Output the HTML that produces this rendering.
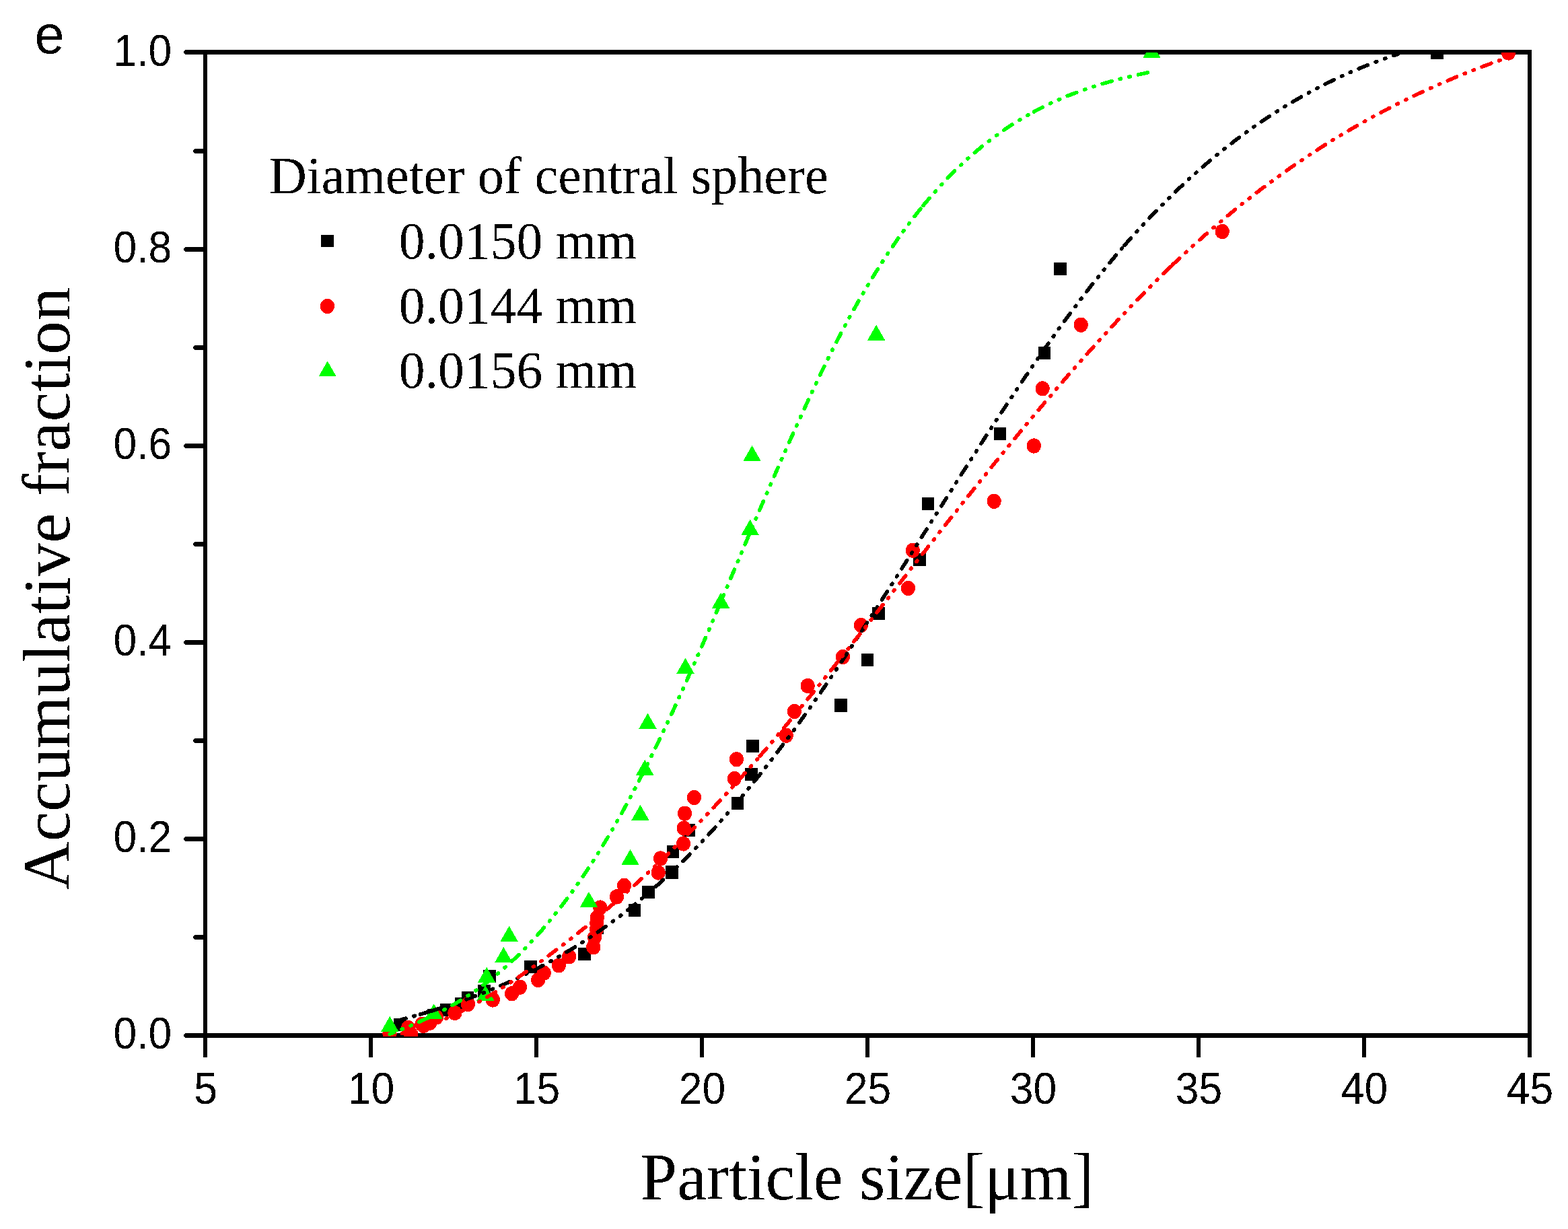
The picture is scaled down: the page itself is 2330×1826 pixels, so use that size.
<!DOCTYPE html>
<html lang="en"><head><meta charset="utf-8"><title>Accumulative fraction vs particle size</title>
<style>
html,body{margin:0;padding:0;background:#fff;}
body{width:2330px;height:1826px;overflow:hidden;}
svg{display:block;}
.sans{font-family:"Liberation Sans",Arial,Helvetica,sans-serif;fill:#000;}
.serif{font-family:"Liberation Serif","Times New Roman",Times,serif;fill:#000;}
.ax{stroke:#000;stroke-width:6.2;fill:none;}
.tk{stroke:#000;stroke-width:6.2;fill:none;stroke-linecap:round;}
</style></head><body>
<svg width="2330" height="1826" viewBox="0 0 2330 1826" shape-rendering="crispEdges">
<rect x="0" y="0" width="2330" height="1826" fill="#fff"/>
<defs><filter id="bin" filterUnits="userSpaceOnUse" x="0" y="0" width="2330" height="1826" color-interpolation-filters="sRGB"><feComponentTransfer><feFuncA type="discrete" tableValues="0 1"/></feComponentTransfer></filter><clipPath id="plotclip"><rect x="304.0" y="78.0" width="1970.0" height="1462.0"/></clipPath></defs>
<g id="axes" fill="#000">
<rect x="302" y="74" width="1974" height="7"/>
<rect x="302" y="1535" width="1974" height="7"/>
<rect x="302" y="74" width="6" height="1468"/>
<rect x="2270" y="74" width="6" height="1468"/>
<rect x="275" y="74" width="30" height="7"/>
<rect x="274" y="75" width="1" height="5"/>
<rect x="273" y="76" width="1" height="3"/>
<rect x="289" y="221" width="16" height="7"/>
<rect x="288" y="222" width="1" height="5"/>
<rect x="287" y="223" width="1" height="3"/>
<rect x="275" y="367" width="30" height="7"/>
<rect x="274" y="368" width="1" height="5"/>
<rect x="273" y="369" width="1" height="3"/>
<rect x="289" y="513" width="16" height="7"/>
<rect x="288" y="514" width="1" height="5"/>
<rect x="287" y="515" width="1" height="3"/>
<rect x="275" y="659" width="30" height="7"/>
<rect x="274" y="660" width="1" height="5"/>
<rect x="273" y="661" width="1" height="3"/>
<rect x="289" y="805" width="16" height="7"/>
<rect x="288" y="806" width="1" height="5"/>
<rect x="287" y="807" width="1" height="3"/>
<rect x="275" y="951" width="30" height="7"/>
<rect x="274" y="952" width="1" height="5"/>
<rect x="273" y="953" width="1" height="3"/>
<rect x="289" y="1097" width="16" height="7"/>
<rect x="288" y="1098" width="1" height="5"/>
<rect x="287" y="1099" width="1" height="3"/>
<rect x="275" y="1243" width="30" height="7"/>
<rect x="274" y="1244" width="1" height="5"/>
<rect x="273" y="1245" width="1" height="3"/>
<rect x="289" y="1389" width="16" height="7"/>
<rect x="288" y="1390" width="1" height="5"/>
<rect x="287" y="1391" width="1" height="3"/>
<rect x="275" y="1535" width="30" height="7"/>
<rect x="274" y="1536" width="1" height="5"/>
<rect x="273" y="1537" width="1" height="3"/>
<rect x="302" y="1538" width="6" height="33"/>
<rect x="548" y="1538" width="6" height="33"/>
<rect x="794" y="1538" width="6" height="33"/>
<rect x="1040" y="1538" width="6" height="33"/>
<rect x="1286" y="1538" width="6" height="33"/>
<rect x="1532" y="1538" width="6" height="33"/>
<rect x="1778" y="1538" width="6" height="33"/>
<rect x="2024" y="1538" width="6" height="33"/>
<rect x="2270" y="1538" width="6" height="33"/>
</g>
<g id="markers" clip-path="url(#plotclip)">
<rect x="585.30" y="1512.80" width="18.6" height="19.6" fill="#000"/>
<rect x="635.40" y="1498.80" width="18.6" height="19.6" fill="#000"/>
<rect x="654.30" y="1490.80" width="18.6" height="19.6" fill="#000"/>
<rect x="676.30" y="1481.80" width="18.6" height="19.6" fill="#000"/>
<rect x="685.50" y="1472.80" width="18.6" height="19.6" fill="#000"/>
<rect x="710.20" y="1462.70" width="18.6" height="19.6" fill="#000"/>
<rect x="718.20" y="1440.60" width="18.6" height="19.6" fill="#000"/>
<rect x="779.20" y="1426.80" width="18.6" height="19.6" fill="#000"/>
<rect x="859.20" y="1407.70" width="18.6" height="19.6" fill="#000"/>
<rect x="877.90" y="1368.70" width="18.6" height="19.6" fill="#000"/>
<rect x="933.80" y="1342.60" width="18.6" height="19.6" fill="#000"/>
<rect x="954.20" y="1315.70" width="18.6" height="19.6" fill="#000"/>
<rect x="989.30" y="1286.20" width="18.6" height="19.6" fill="#000"/>
<rect x="990.70" y="1255.70" width="18.6" height="19.6" fill="#000"/>
<rect x="1014.20" y="1223.80" width="18.6" height="19.6" fill="#000"/>
<rect x="1086.70" y="1183.60" width="18.6" height="19.6" fill="#000"/>
<rect x="1107.30" y="1140.70" width="18.6" height="19.6" fill="#000"/>
<rect x="1109.30" y="1098.60" width="18.6" height="19.6" fill="#000"/>
<rect x="1240.10" y="1038.10" width="18.6" height="19.6" fill="#000"/>
<rect x="1279.60" y="970.70" width="18.6" height="19.6" fill="#000"/>
<rect x="1296.20" y="901.50" width="18.6" height="19.6" fill="#000"/>
<rect x="1357.20" y="821.70" width="18.6" height="19.6" fill="#000"/>
<rect x="1369.70" y="738.70" width="18.6" height="19.6" fill="#000"/>
<rect x="1476.70" y="634.60" width="18.6" height="19.6" fill="#000"/>
<rect x="1542.70" y="514.60" width="18.6" height="19.6" fill="#000"/>
<rect x="1566.20" y="389.60" width="18.6" height="19.6" fill="#000"/>
<rect x="2126.30" y="68.70" width="18.6" height="19.6" fill="#000"/>
<ellipse cx="579.0" cy="1535.6" rx="10.6" ry="11.1" fill="#ff0000"/>
<ellipse cx="606.5" cy="1527.0" rx="10.6" ry="11.1" fill="#ff0000"/>
<ellipse cx="610.7" cy="1536.8" rx="10.6" ry="11.1" fill="#ff0000"/>
<ellipse cx="626.9" cy="1521.9" rx="10.6" ry="11.1" fill="#ff0000"/>
<ellipse cx="629.4" cy="1523.9" rx="10.6" ry="11.1" fill="#ff0000"/>
<ellipse cx="638.8" cy="1519.7" rx="10.6" ry="11.1" fill="#ff0000"/>
<ellipse cx="648.5" cy="1511.4" rx="10.6" ry="11.1" fill="#ff0000"/>
<ellipse cx="675.9" cy="1505.0" rx="10.6" ry="11.1" fill="#ff0000"/>
<ellipse cx="695.5" cy="1492.0" rx="10.6" ry="11.1" fill="#ff0000"/>
<ellipse cx="732.4" cy="1485.5" rx="10.6" ry="11.1" fill="#ff0000"/>
<ellipse cx="760.6" cy="1476.3" rx="10.6" ry="11.1" fill="#ff0000"/>
<ellipse cx="772.6" cy="1466.7" rx="10.6" ry="11.1" fill="#ff0000"/>
<ellipse cx="799.6" cy="1456.1" rx="10.6" ry="11.1" fill="#ff0000"/>
<ellipse cx="808.3" cy="1445.6" rx="10.6" ry="11.1" fill="#ff0000"/>
<ellipse cx="830.4" cy="1434.4" rx="10.6" ry="11.1" fill="#ff0000"/>
<ellipse cx="845.6" cy="1421.4" rx="10.6" ry="11.1" fill="#ff0000"/>
<ellipse cx="881.7" cy="1407.3" rx="10.6" ry="11.1" fill="#ff0000"/>
<ellipse cx="883.5" cy="1392.8" rx="10.6" ry="11.1" fill="#ff0000"/>
<ellipse cx="886.5" cy="1380.5" rx="10.6" ry="11.1" fill="#ff0000"/>
<ellipse cx="886.9" cy="1371.5" rx="10.6" ry="11.1" fill="#ff0000"/>
<ellipse cx="887.5" cy="1363.2" rx="10.6" ry="11.1" fill="#ff0000"/>
<ellipse cx="891.8" cy="1348.5" rx="10.6" ry="11.1" fill="#ff0000"/>
<ellipse cx="916.5" cy="1332.4" rx="10.6" ry="11.1" fill="#ff0000"/>
<ellipse cx="927.5" cy="1315.8" rx="10.6" ry="11.1" fill="#ff0000"/>
<ellipse cx="978.3" cy="1296.5" rx="10.6" ry="11.1" fill="#ff0000"/>
<ellipse cx="981.5" cy="1275.5" rx="10.6" ry="11.1" fill="#ff0000"/>
<ellipse cx="1015.5" cy="1253.5" rx="10.6" ry="11.1" fill="#ff0000"/>
<ellipse cx="1016.3" cy="1230.5" rx="10.6" ry="11.1" fill="#ff0000"/>
<ellipse cx="1017.5" cy="1208.6" rx="10.6" ry="11.1" fill="#ff0000"/>
<ellipse cx="1031.5" cy="1185.0" rx="10.6" ry="11.1" fill="#ff0000"/>
<ellipse cx="1091.3" cy="1157.0" rx="10.6" ry="11.1" fill="#ff0000"/>
<ellipse cx="1094.5" cy="1128.2" rx="10.6" ry="11.1" fill="#ff0000"/>
<ellipse cx="1168.3" cy="1092.7" rx="10.6" ry="11.1" fill="#ff0000"/>
<ellipse cx="1180.4" cy="1057.0" rx="10.6" ry="11.1" fill="#ff0000"/>
<ellipse cx="1200.2" cy="1019.0" rx="10.6" ry="11.1" fill="#ff0000"/>
<ellipse cx="1252.5" cy="976.0" rx="10.6" ry="11.1" fill="#ff0000"/>
<ellipse cx="1279.4" cy="929.0" rx="10.6" ry="11.1" fill="#ff0000"/>
<ellipse cx="1349.5" cy="873.9" rx="10.6" ry="11.1" fill="#ff0000"/>
<ellipse cx="1356.4" cy="817.8" rx="10.6" ry="11.1" fill="#ff0000"/>
<ellipse cx="1477.2" cy="744.8" rx="10.6" ry="11.1" fill="#ff0000"/>
<ellipse cx="1536.4" cy="662.5" rx="10.6" ry="11.1" fill="#ff0000"/>
<ellipse cx="1549.2" cy="577.4" rx="10.6" ry="11.1" fill="#ff0000"/>
<ellipse cx="1606.3" cy="482.7" rx="10.6" ry="11.1" fill="#ff0000"/>
<ellipse cx="1816.2" cy="344.0" rx="10.6" ry="11.1" fill="#ff0000"/>
<ellipse cx="2241.6" cy="78.5" rx="10.6" ry="11.1" fill="#ff0000"/>
<path d="M579.3 1509.9 L592.6 1533.1 L566.0 1533.1 Z" fill="#00ff00"/>
<path d="M644.7 1491.2 L658.0 1514.4 L631.4 1514.4 Z" fill="#00ff00"/>
<path d="M721.4 1463.9 L734.7 1487.1 L708.1 1487.1 Z" fill="#00ff00"/>
<path d="M723.2 1436.8 L736.5 1460.0 L709.9 1460.0 Z" fill="#00ff00"/>
<path d="M748.3 1407.0 L761.6 1430.2 L735.0 1430.2 Z" fill="#00ff00"/>
<path d="M756.6 1375.8 L769.9 1399.0 L743.3 1399.0 Z" fill="#00ff00"/>
<path d="M875.0 1324.9 L888.3 1348.1 L861.7 1348.1 Z" fill="#00ff00"/>
<path d="M936.5 1261.9 L949.8 1285.1 L923.2 1285.1 Z" fill="#00ff00"/>
<path d="M951.4 1195.8 L964.7 1219.0 L938.1 1219.0 Z" fill="#00ff00"/>
<path d="M958.2 1128.7 L971.5 1151.9 L944.9 1151.9 Z" fill="#00ff00"/>
<path d="M962.5 1059.7 L975.8 1082.9 L949.2 1082.9 Z" fill="#00ff00"/>
<path d="M1018.5 977.7 L1031.8 1000.9 L1005.2 1000.9 Z" fill="#00ff00"/>
<path d="M1071.1 880.6 L1084.4 903.8 L1057.8 903.8 Z" fill="#00ff00"/>
<path d="M1114.6 771.8 L1127.9 795.0 L1101.3 795.0 Z" fill="#00ff00"/>
<path d="M1117.5 661.9 L1130.8 685.1 L1104.2 685.1 Z" fill="#00ff00"/>
<path d="M1302.1 482.7 L1315.4 505.9 L1288.8 505.9 Z" fill="#00ff00"/>
<path d="M1711.5 63.1 L1724.8 86.3 L1698.2 86.3 Z" fill="#00ff00"/>
</g>
<g id="curves" fill="none" clip-path="url(#plotclip)">
<path d="M594.6 1515.4 L598.6 1514.3 L602.6 1513.2 L606.6 1512.1 L610.6 1511.0 L614.6 1509.9 L618.6 1508.7 L621.0 1508.0" stroke="#000000" stroke-width="5.6" stroke-dasharray="14.5 12.5 1.5 12.5 1.5 12.5" stroke-dashoffset="5.75" stroke-linecap="round"/>
<path d="M624.5 1507.0 L626.6 1506.4 L630.6 1505.2 L634.6 1504.0 L637.0 1503.3" stroke="#000000" stroke-width="5.6" stroke-linecap="round"/>
<path d="M621.0 1508.0 L622.6 1507.6 L626.6 1506.4 L630.6 1505.2 L634.6 1504.0 L638.6 1502.8 L642.6 1501.6 L646.6 1500.4 L650.6 1499.1 L654.6 1497.8 L658.6 1496.6 L662.6 1495.3 L666.6 1493.9 L670.6 1492.6 L674.6 1491.2 L678.6 1489.9 L682.6 1488.5 L686.6 1487.0 L690.6 1485.6 L694.6 1484.2 L698.6 1482.7 L702.6 1481.2 L706.6 1479.7 L710.6 1478.2 L714.6 1476.6 L718.6 1475.0 L722.6 1473.4 L726.6 1471.8 L730.6 1470.2 L734.6 1468.5 L738.6 1466.9 L742.6 1465.2 L746.6 1463.4 L750.6 1461.7 L754.6 1459.9 L758.6 1458.1 L762.6 1456.3 L766.6 1454.4 L770.6 1452.6 L774.6 1450.7 L778.6 1448.7 L782.6 1446.8 L786.6 1444.8 L790.6 1442.8 L794.6 1440.8 L798.6 1438.7 L802.6 1436.6 L806.6 1434.5 L810.6 1432.4 L814.6 1430.2 L818.6 1428.0 L822.6 1425.8 L826.6 1423.6 L830.6 1421.3 L834.6 1419.0 L838.6 1416.6 L842.6 1414.3 L846.6 1411.9 L850.6 1409.4 L854.6 1407.0 L858.6 1404.5 L862.6 1401.9 L866.6 1399.4 L870.6 1396.8 L874.6 1394.2 L878.6 1391.5 L882.6 1388.8 L886.6 1386.1 L890.6 1383.4 L894.6 1380.6 L898.6 1377.7 L902.6 1374.9 L906.6 1372.0 L910.6 1369.1 L914.6 1366.1 L918.6 1363.1 L922.6 1360.1 L926.6 1357.0 L930.6 1353.9 L934.6 1350.7 L938.6 1347.5 L942.6 1344.3 L946.6 1341.1 L950.6 1337.8 L954.6 1334.4 L958.6 1331.0 L962.6 1327.6 L966.6 1324.2 L970.6 1320.7 L974.6 1317.2 L978.6 1313.6 L982.6 1310.0 L986.6 1306.3 L990.6 1302.6 L994.6 1298.9 L998.6 1295.1 L1002.6 1291.3 L1006.6 1287.4 L1010.6 1283.5 L1014.6 1279.6 L1018.6 1275.6 L1022.6 1271.6 L1026.6 1267.6 L1030.6 1263.5 L1034.6 1259.3 L1038.6 1255.2 L1042.6 1251.0 L1046.6 1246.7 L1050.6 1242.4 L1054.6 1238.1 L1058.6 1233.8 L1062.6 1229.4 L1066.6 1224.9 L1070.6 1220.5 L1074.6 1216.0 L1078.6 1211.4 L1082.6 1206.8 L1086.6 1202.2 L1090.6 1197.6 L1094.6 1192.9 L1096.0 1191.2" stroke="#000000" stroke-width="5.6" stroke-dasharray="14.5 12.5 1.5 12.5 1.5 12.5" stroke-dashoffset="-20.66" stroke-linecap="round"/>
<path d="M1096.0 1191.2 L1098.6 1188.1 L1102.6 1183.4 L1106.6 1178.6 L1110.6 1173.7 L1114.6 1168.9 L1118.6 1163.9 L1122.6 1159.0 L1126.6 1154.0 L1130.6 1149.0 L1134.6 1144.0 L1138.6 1138.9 L1142.6 1133.8 L1146.6 1128.6 L1150.6 1123.4 L1154.6 1118.2 L1158.6 1112.9 L1162.6 1107.6 L1166.6 1102.3 L1170.6 1097.0 L1174.6 1091.6 L1178.6 1086.1 L1182.6 1080.7 L1186.6 1075.2 L1190.6 1069.7 L1194.6 1064.1 L1198.6 1058.5 L1202.6 1052.9 L1206.6 1047.2 L1210.6 1041.5 L1214.6 1035.8 L1218.6 1030.1 L1222.6 1024.3 L1226.6 1018.5 L1230.6 1012.6 L1234.6 1006.8 L1238.6 1000.9 L1242.6 994.9 L1246.6 989.0 L1250.6 983.0 L1254.6 977.0 L1258.6 971.0 L1262.6 964.9 L1266.6 958.9 L1270.6 952.8 L1274.6 946.7 L1278.6 940.6 L1282.6 934.4 L1286.6 928.3 L1290.6 922.1 L1294.6 915.9 L1298.6 909.7 L1302.6 903.5 L1306.6 897.2 L1310.6 891.0 L1314.6 884.8 L1318.6 878.5 L1322.6 872.2 L1326.6 865.9 L1330.6 859.6 L1334.6 853.3 L1338.6 847.0 L1342.6 840.7 L1346.6 834.4 L1350.6 828.1 L1354.6 821.8 L1358.6 815.4 L1362.6 809.1 L1366.6 802.8 L1370.6 796.4 L1374.6 790.1 L1378.6 783.8 L1382.6 777.4 L1386.6 771.1 L1390.6 764.8 L1394.6 758.5 L1398.6 752.1 L1402.6 745.8 L1406.6 739.5 L1410.6 733.2 L1414.6 726.9 L1418.6 720.6 L1422.6 714.3 L1426.6 708.0 L1430.6 701.7 L1434.6 695.5 L1438.6 689.2 L1442.6 683.0 L1446.6 676.7 L1450.6 670.5 L1454.6 664.3 L1458.6 658.1 L1462.6 651.9 L1466.6 645.8 L1470.6 639.6 L1474.6 633.5 L1478.6 627.3 L1482.6 621.2 L1486.6 615.2 L1490.6 609.1 L1494.6 603.0 L1498.6 597.0 L1502.6 591.0 L1506.6 585.0 L1510.6 579.0 L1514.6 573.1 L1518.6 567.1 L1522.6 561.2 L1526.6 555.4 L1530.6 549.5 L1534.6 543.7 L1538.6 537.9 L1542.6 532.1 L1546.6 526.4 L1550.6 520.6 L1554.6 514.9 L1558.6 509.3 L1562.6 503.6 L1566.6 498.0 L1570.6 492.5 L1574.6 486.9 L1578.6 481.4 L1582.6 475.9 L1586.6 470.5 L1590.6 465.1 L1594.6 459.7 L1598.6 454.4 L1602.6 449.1 L1606.6 443.8 L1610.6 438.6 L1614.6 433.4 L1618.6 428.2 L1622.6 423.1 L1626.6 418.0 L1630.6 413.0 L1634.6 408.0 L1638.6 403.1 L1642.6 398.1 L1646.6 393.3 L1650.6 388.5 L1654.6 383.7 L1658.6 378.9 L1662.6 374.2 L1666.6 369.6 L1669.5 366.2" stroke="#000000" stroke-width="5.6" stroke-dasharray="14.5 12.5 1.5 12.5 1.5 12.5" stroke-dashoffset="-39.05" stroke-linecap="round"/>
<path d="M1669.5 366.2 L1670.6 365.0 L1674.6 360.4 L1678.6 355.9 L1682.6 351.4 L1686.6 346.9 L1690.6 342.5 L1694.6 338.2 L1698.6 333.8 L1702.6 329.6 L1706.6 325.3 L1710.6 321.1 L1714.6 316.9 L1718.6 312.8 L1722.6 308.7 L1726.6 304.7 L1730.6 300.7 L1734.6 296.7 L1738.6 292.8 L1742.6 288.9 L1746.6 285.0 L1750.6 281.2 L1754.6 277.4 L1758.6 273.7 L1762.6 269.9 L1766.6 266.3 L1770.6 262.6 L1774.6 259.1 L1778.6 255.5 L1782.6 252.0 L1786.6 248.5 L1790.6 245.0 L1794.6 241.6 L1798.6 238.2 L1802.6 234.9 L1806.6 231.6 L1810.6 228.3 L1814.6 225.1 L1818.6 221.9 L1822.6 218.7 L1826.6 215.6 L1830.6 212.5 L1834.6 209.4 L1838.6 206.4 L1842.6 203.4 L1846.6 200.4 L1850.6 197.5 L1854.6 194.6 L1858.6 191.8 L1862.6 188.9 L1866.6 186.1 L1870.6 183.4 L1874.6 180.6 L1878.6 177.9 L1882.6 175.3 L1886.6 172.6 L1890.6 170.0 L1894.6 167.4 L1898.6 164.9 L1902.6 162.4 L1906.6 159.9 L1910.6 157.5 L1914.6 155.0 L1918.6 152.7 L1922.6 150.3 L1926.6 148.0 L1930.6 145.7 L1934.6 143.4 L1938.6 141.2 L1942.6 139.0 L1946.6 136.8 L1950.6 134.6 L1954.6 132.5 L1958.6 130.4 L1962.6 128.3 L1966.6 126.3 L1970.6 124.3 L1974.6 122.3 L1978.6 120.4 L1982.6 118.4 L1986.6 116.5 L1990.6 114.7 L1994.6 112.8 L1998.6 111.0 L2002.6 109.2 L2006.6 107.4 L2010.6 105.7 L2014.6 104.0 L2018.6 102.3 L2022.6 100.6 L2026.6 99.0 L2030.6 97.4 L2034.6 95.8 L2038.6 94.2 L2042.6 92.7 L2046.6 91.2 L2050.6 89.7 L2054.6 88.2 L2058.6 86.8 L2062.6 85.4 L2066.6 84.0 L2070.6 82.6 L2074.6 81.3 L2077.0 80.5" stroke="#000000" stroke-width="5.6" stroke-dasharray="14.5 12.5 1.5 12.5 1.5 12.5" stroke-dashoffset="-2.2" stroke-linecap="round"/>
<path d="M579.0 1538.7 L583.0 1538.1 L587.0 1537.4 L591.0 1536.7 L595.0 1535.9 L599.0 1535.0 L603.0 1534.1 L607.0 1533.1 L611.0 1532.0 L615.0 1530.9 L619.0 1529.7 L623.0 1528.5 L627.0 1527.2 L631.0 1525.9 L635.0 1524.5 L639.0 1523.0 L643.0 1521.5 L647.0 1520.0 L651.0 1518.3 L655.0 1516.7 L659.0 1515.0 L663.0 1513.2 L667.0 1511.4 L671.0 1509.6 L675.0 1507.7 L679.0 1505.7 L683.0 1503.8 L687.0 1501.7 L691.0 1499.7 L695.0 1497.6 L699.0 1495.4 L703.0 1493.3 L707.0 1491.1 L711.0 1488.8 L715.0 1486.5 L719.0 1484.2 L723.0 1481.9 L727.0 1479.5 L731.0 1477.1 L735.0 1474.6 L739.0 1472.2 L743.0 1469.6 L747.0 1467.1 L751.0 1464.6 L755.0 1462.0 L759.0 1459.3 L763.0 1456.7 L767.0 1454.0 L771.0 1451.3 L775.0 1448.6 L779.0 1445.8 L783.0 1443.1 L787.0 1440.3 L791.0 1437.4 L795.0 1434.6 L799.0 1431.7 L803.0 1428.8 L807.0 1425.9 L811.0 1423.0 L815.0 1420.0 L819.0 1417.1 L823.0 1414.1 L827.0 1411.1 L831.0 1408.0 L835.0 1405.0 L839.0 1401.9 L843.0 1398.8 L847.0 1395.7 L851.0 1392.6 L855.0 1389.4 L859.0 1386.2 L863.0 1383.1 L867.0 1379.8 L871.0 1376.6 L875.0 1373.4 L879.0 1370.1 L883.0 1366.8 L887.0 1363.5 L891.0 1360.2 L895.0 1356.8 L899.0 1353.4 L903.0 1350.1 L907.0 1346.6 L911.0 1343.2 L915.0 1339.8 L919.0 1336.3 L923.0 1332.8 L927.0 1329.3 L931.0 1325.7 L935.0 1322.2 L939.0 1318.6 L943.0 1315.0 L947.0 1311.4 L951.0 1307.7 L955.0 1304.1 L959.0 1300.4 L963.0 1296.7 L967.0 1293.0 L971.0 1289.2 L975.0 1285.5 L979.0 1281.7 L983.0 1277.9 L987.0 1274.0 L991.0 1270.2 L995.0 1266.3 L999.0 1262.4 L1003.0 1258.5 L1007.0 1254.5 L1011.0 1250.6 L1015.0 1246.6 L1019.0 1242.6 L1023.0 1238.5 L1027.0 1234.5 L1031.0 1230.4 L1035.0 1226.3 L1039.0 1222.2 L1043.0 1218.1 L1047.0 1213.9 L1051.0 1209.7 L1055.0 1205.5 L1059.0 1201.3 L1063.0 1197.0 L1067.0 1192.7 L1071.0 1188.4 L1075.0 1184.1 L1079.0 1179.8 L1083.0 1175.4 L1087.0 1171.0 L1091.0 1166.6 L1095.0 1162.1 L1099.0 1157.7 L1103.0 1153.2 L1107.0 1148.7 L1111.0 1144.2 L1115.0 1139.6 L1119.0 1135.1 L1123.0 1130.5 L1127.0 1125.9 L1128.3 1124.4" stroke="#ff0000" stroke-width="5.6" stroke-dasharray="14.5 12.5 1.5 12.5 1.5 12.5" stroke-dashoffset="-46.75" stroke-linecap="round"/>
<path d="M1128.3 1124.4 L1131.0 1121.3 L1135.0 1116.6 L1139.0 1112.0 L1143.0 1107.3 L1147.0 1102.6 L1151.0 1097.9 L1155.0 1093.2 L1159.0 1088.5 L1163.0 1083.7 L1167.0 1078.9 L1171.0 1074.2 L1175.0 1069.3 L1179.0 1064.5 L1183.0 1059.7 L1187.0 1054.9 L1191.0 1050.0 L1195.0 1045.1 L1199.0 1040.2 L1203.0 1035.4 L1207.0 1030.4 L1211.0 1025.5 L1215.0 1020.6 L1219.0 1015.7 L1223.0 1010.7 L1227.0 1005.7 L1231.0 1000.8 L1235.0 995.8 L1239.0 990.8 L1243.0 985.8 L1247.0 980.8 L1251.0 975.8 L1255.0 970.7 L1259.0 965.7 L1263.0 960.6 L1267.0 955.6 L1271.0 950.5 L1275.0 945.5 L1279.0 940.4 L1283.0 935.3 L1287.0 930.3 L1291.0 925.2 L1295.0 920.1 L1299.0 915.0 L1303.0 909.9 L1307.0 904.8 L1311.0 899.7 L1315.0 894.6 L1319.0 889.5 L1323.0 884.4 L1327.0 879.3 L1331.0 874.1 L1335.0 869.0 L1339.0 863.9 L1343.0 858.8 L1347.0 853.7 L1351.0 848.6 L1355.0 843.4 L1359.0 838.3 L1363.0 833.2 L1367.0 828.1 L1371.0 823.0 L1375.0 817.9 L1379.0 812.8 L1383.0 807.7 L1387.0 802.6 L1391.0 797.5 L1395.0 792.4 L1399.0 787.3 L1403.0 782.2 L1407.0 777.1 L1411.0 772.1 L1415.0 767.0 L1419.0 761.9 L1423.0 756.9 L1427.0 751.8 L1431.0 746.8 L1435.0 741.8 L1439.0 736.7 L1443.0 731.7 L1447.0 726.7 L1451.0 721.7 L1455.0 716.7 L1459.0 711.7 L1463.0 706.7 L1467.0 701.8 L1471.0 696.8 L1475.0 691.9 L1479.0 686.9 L1483.0 682.0 L1487.0 677.1 L1491.0 672.2 L1495.0 667.3 L1499.0 662.4 L1503.0 657.5 L1507.0 652.6 L1511.0 647.8 L1515.0 642.9 L1519.0 638.1 L1523.0 633.3 L1527.0 628.5 L1531.0 623.7 L1535.0 618.9 L1539.0 614.1 L1543.0 609.4 L1547.0 604.6 L1551.0 599.9 L1555.0 595.2 L1559.0 590.5 L1563.0 585.8 L1567.0 581.1 L1571.0 576.4 L1575.0 571.8 L1579.0 567.2 L1583.0 562.5 L1587.0 557.9 L1591.0 553.4 L1595.0 548.8 L1599.0 544.2 L1603.0 539.7 L1607.0 535.2 L1611.0 530.7 L1615.0 526.2 L1619.0 521.7 L1623.0 517.3 L1627.0 512.8 L1631.0 508.4 L1635.0 504.0 L1639.0 499.7 L1643.0 495.3 L1647.0 490.9 L1651.0 486.6 L1655.0 482.3 L1659.0 478.0 L1663.0 473.8 L1667.0 469.5 L1671.0 465.3 L1675.0 461.1 L1679.0 456.9 L1683.0 452.7 L1687.0 448.6 L1691.0 444.5 L1695.0 440.4 L1699.0 436.3 L1703.0 432.2 L1707.0 428.2 L1711.0 424.2 L1715.0 420.2 L1719.0 416.2 L1723.0 412.3 L1727.0 408.4 L1731.0 404.5 L1735.0 400.6 L1739.0 396.8 L1741.1 394.7" stroke="#ff0000" stroke-width="5.6" stroke-dasharray="14.5 12.5 1.5 12.5 1.5 12.5" stroke-dashoffset="-1.5" stroke-linecap="round"/>
<path d="M1741.1 394.7 L1743.0 392.9 L1747.0 389.1 L1751.0 385.3 L1755.0 381.6 L1759.0 377.9 L1763.0 374.2 L1767.0 370.5 L1771.0 366.8 L1775.0 363.2 L1779.0 359.6 L1783.0 356.0 L1787.0 352.5 L1791.0 348.9 L1795.0 345.4 L1799.0 341.9 L1803.0 338.5 L1807.0 335.1 L1811.0 331.6 L1815.0 328.3 L1819.0 324.9 L1823.0 321.6 L1827.0 318.3 L1831.0 315.0 L1835.0 311.7 L1839.0 308.5 L1843.0 305.2 L1847.0 302.1 L1851.0 298.9 L1855.0 295.7 L1859.0 292.6 L1863.0 289.5 L1867.0 286.4 L1871.0 283.4 L1875.0 280.3 L1879.0 277.3 L1883.0 274.3 L1887.0 271.4 L1891.0 268.4 L1895.0 265.5 L1899.0 262.6 L1903.0 259.7 L1907.0 256.9 L1911.0 254.0 L1915.0 251.2 L1919.0 248.4 L1923.0 245.6 L1927.0 242.9 L1931.0 240.2 L1935.0 237.5 L1939.0 234.8 L1943.0 232.1 L1947.0 229.5 L1951.0 226.8 L1955.0 224.2 L1959.0 221.6 L1963.0 219.1 L1967.0 216.5 L1971.0 214.0 L1975.0 211.5 L1979.0 209.0 L1983.0 206.6 L1987.0 204.1 L1991.0 201.7 L1995.0 199.3 L1999.0 196.9 L2003.0 194.6 L2007.0 192.2 L2011.0 189.9 L2015.0 187.6 L2019.0 185.3 L2023.0 183.0 L2027.0 180.8 L2031.0 178.5 L2035.0 176.3 L2039.0 174.1 L2043.0 172.0 L2047.0 169.8 L2051.0 167.7 L2055.0 165.6 L2059.0 163.5 L2063.0 161.4 L2067.0 159.3 L2071.0 157.3 L2075.0 155.2 L2079.0 153.2 L2083.0 151.2 L2087.0 149.2 L2091.0 147.3 L2095.0 145.3 L2099.0 143.4 L2103.0 141.5 L2107.0 139.6 L2111.0 137.7 L2115.0 135.9 L2119.0 134.0 L2123.0 132.2 L2127.0 130.4 L2131.0 128.6 L2135.0 126.8 L2139.0 125.1 L2143.0 123.3 L2147.0 121.6 L2151.0 119.9 L2155.0 118.2 L2159.0 116.5 L2163.0 114.8 L2167.0 113.2 L2171.0 111.6 L2175.0 109.9 L2179.0 108.3 L2183.0 106.7 L2187.0 105.2 L2191.0 103.6 L2195.0 102.1 L2199.0 100.5 L2203.0 99.0 L2207.0 97.5 L2211.0 96.0 L2215.0 94.6 L2219.0 93.1 L2223.0 91.7 L2227.0 90.2 L2231.0 88.8 L2235.0 87.4 L2239.0 86.0 L2241.6 85.1" stroke="#ff0000" stroke-width="5.6" stroke-dasharray="14.5 12.5 1.5 12.5 1.5 12.5" stroke-dashoffset="-1.5" stroke-linecap="round"/>
<path d="M579.3 1536.3 L583.3 1534.7 L587.3 1533.1 L591.3 1531.5 L595.3 1529.9 L599.3 1528.3 L603.3 1526.6 L607.3 1525.0 L611.3 1523.3 L615.3 1521.6 L619.3 1519.8 L623.3 1518.0 L627.3 1516.2 L631.3 1514.4 L635.3 1512.6 L639.3 1510.7 L643.3 1508.7 L647.3 1506.8 L651.3 1504.7 L655.3 1502.7 L659.3 1500.6 L663.3 1498.5 L667.3 1496.3 L671.3 1494.0 L675.3 1491.8 L679.3 1489.4 L683.3 1487.0 L687.3 1484.6 L691.3 1482.1 L695.3 1479.5 L699.3 1476.9 L703.3 1474.2 L707.3 1471.5 L711.3 1468.6 L715.3 1465.7 L719.3 1462.8 L723.3 1459.8 L727.3 1456.7 L731.3 1453.5 L735.3 1450.3 L739.3 1447.0 L743.3 1443.6 L747.3 1440.2 L751.3 1436.7 L755.3 1433.1 L759.3 1429.4 L763.3 1425.7 L767.3 1421.9 L771.3 1418.0 L775.3 1414.0 L779.3 1410.0 L783.3 1405.8 L787.3 1401.6 L791.3 1397.4 L795.3 1393.0 L799.3 1388.6 L803.3 1384.1 L807.3 1379.5 L811.3 1374.8 L815.3 1370.0 L819.3 1365.2 L823.3 1360.2 L827.3 1355.2 L831.3 1350.1 L835.3 1345.0 L839.3 1339.7 L843.3 1334.4 L847.3 1328.9 L851.3 1323.4 L855.3 1317.8 L859.3 1312.1 L863.3 1306.4 L867.3 1300.5 L871.3 1294.5 L875.3 1288.5 L879.3 1282.4 L883.3 1276.2 L887.3 1269.9 L891.3 1263.5 L895.3 1257.0 L899.3 1250.4 L903.3 1243.7 L907.3 1237.0 L911.3 1230.1 L915.3 1223.2 L919.3 1216.2 L923.3 1209.1 L927.3 1201.8 L931.3 1194.5 L935.3 1187.1 L939.3 1179.6 L943.3 1172.1 L947.3 1164.4 L951.3 1156.6 L955.3 1148.8 L959.3 1140.9 L963.3 1132.9 L967.3 1124.8 L971.3 1116.7 L975.3 1108.5 L979.3 1100.2 L983.3 1091.8 L987.3 1083.4 L991.3 1074.9 L995.3 1066.4 L999.3 1057.8 L1003.3 1049.1 L1007.3 1040.3 L1011.3 1031.5 L1015.3 1022.7 L1019.3 1013.8 L1023.3 1004.8 L1027.3 995.8 L1031.3 986.8 L1035.3 977.7 L1039.3 968.5 L1043.3 959.3 L1047.3 950.1 L1051.3 940.8 L1055.3 931.5 L1059.3 922.1 L1063.3 912.6 L1067.3 903.2 L1071.3 893.7 L1075.3 884.2 L1079.3 874.7 L1083.3 865.2 L1087.3 855.7 L1091.3 846.2 L1095.3 836.8 L1099.3 827.3 L1103.3 817.8 L1107.3 808.3 L1111.3 798.9 L1115.3 789.4 L1119.3 780.0 L1123.3 770.5 L1127.3 761.2 L1131.3 751.8 L1135.3 742.5 L1139.3 733.2 L1143.3 724.0 L1147.3 714.8 L1151.3 705.6 L1155.3 696.5 L1159.3 687.4 L1163.3 678.3 L1167.3 669.3 L1171.3 660.3 L1175.3 651.3 L1179.3 642.4 L1183.3 633.5 L1187.3 624.7 L1191.3 615.9 L1195.3 607.1 L1199.3 598.4 L1203.3 589.7 L1207.3 581.1 L1211.3 572.6 L1215.3 564.1 L1219.3 555.7 L1223.3 547.4 L1227.3 539.2 L1231.3 531.1 L1235.3 523.1 L1239.3 515.2 L1243.3 507.4 L1247.3 499.7 L1251.3 492.0 L1255.3 484.5 L1259.3 477.1 L1263.3 469.7 L1267.3 462.5 L1271.3 455.3 L1275.3 448.2 L1279.3 441.3 L1283.3 434.4 L1287.3 427.6 L1291.3 420.9 L1295.3 414.3 L1299.3 407.8 L1303.3 401.4 L1307.3 395.1 L1311.3 388.8 L1315.3 382.7 L1319.3 376.6 L1323.3 370.7 L1327.3 364.8 L1331.3 359.0 L1335.3 353.3 L1339.3 347.7 L1343.3 342.2 L1347.3 336.8 L1351.3 331.5 L1355.3 326.2 L1359.3 321.1 L1363.3 316.0 L1367.3 311.0 L1370.4 307.2" stroke="#00ff00" stroke-width="5.6" stroke-dasharray="14.5 12.5 1.5 12.5 1.5 12.5" stroke-dashoffset="-47.25" stroke-linecap="round"/>
<path d="M1370.4 307.2 L1371.3 306.1 L1375.3 301.3 L1379.3 296.6 L1383.3 291.9 L1387.3 287.3 L1391.3 282.8 L1395.3 278.4 L1399.3 274.0 L1403.3 269.8 L1407.3 265.6 L1411.3 261.5 L1415.3 257.4 L1419.3 253.4 L1423.3 249.6 L1427.3 245.7 L1431.3 242.0 L1435.3 238.3 L1439.3 234.7 L1443.3 231.1 L1447.3 227.6 L1451.3 224.2 L1455.3 220.9 L1459.3 217.6 L1463.3 214.4 L1467.3 211.2 L1471.3 208.2 L1475.3 205.1 L1479.3 202.2 L1483.3 199.3 L1487.3 196.4 L1491.3 193.6 L1495.3 190.9 L1499.3 188.2 L1503.3 185.6 L1507.3 183.0 L1511.3 180.5 L1515.3 178.1 L1519.3 175.7 L1523.3 173.3 L1527.3 171.0 L1531.3 168.8 L1534.5 167.0" stroke="#00ff00" stroke-width="5.6" stroke-dasharray="14.5 12.5 1.5 12.5 1.5 12.5" stroke-dashoffset="-2.2" stroke-linecap="round"/>
<path d="M1534.5 167.0 L1535.3 166.6 L1539.3 164.4 L1543.3 162.3 L1547.3 160.3 L1551.3 158.3 L1555.3 156.3 L1559.3 154.4 L1563.3 152.5 L1567.3 150.7 L1571.3 148.9 L1575.3 147.2 L1579.3 145.5 L1583.3 143.8 L1587.3 142.2 L1591.3 140.6 L1595.3 139.0 L1599.3 137.5 L1603.3 136.1 L1607.3 134.6 L1611.3 133.2 L1615.3 131.8 L1619.3 130.5 L1623.3 129.2 L1627.3 127.9 L1631.3 126.6 L1635.3 125.4 L1639.3 124.2 L1643.3 123.1 L1647.3 121.9 L1651.3 120.8 L1655.3 119.7 L1659.3 118.7 L1663.3 117.6 L1667.3 116.6 L1671.3 115.6 L1675.3 114.6 L1679.3 113.7 L1683.3 112.7 L1687.3 111.8 L1691.3 110.9 L1695.3 110.0 L1699.3 109.2 L1703.3 108.3 L1707.3 107.5 L1711.3 106.7 L1714.0 106.1" stroke="#00ff00" stroke-width="5.6" stroke-dasharray="14.5 12.5 1.5 12.5 1.5 12.5" stroke-dashoffset="-2.2" stroke-linecap="round"/>
</g>
<g id="text" filter="url(#bin)">
<g id="ticklabels" class="sans" font-size="67.5">
<text transform="translate(255.3 1558.4) scale(0.925 1)" text-anchor="end">0.0</text>
<text transform="translate(255.3 1266.2) scale(0.925 1)" text-anchor="end">0.2</text>
<text transform="translate(255.3 974.1) scale(0.925 1)" text-anchor="end">0.4</text>
<text transform="translate(255.3 681.9) scale(0.925 1)" text-anchor="end">0.6</text>
<text transform="translate(255.3 389.8) scale(0.925 1)" text-anchor="end">0.8</text>
<text transform="translate(255.3 97.6) scale(0.925 1)" text-anchor="end">1.0</text>
<text transform="translate(305.5 1639.5) scale(0.925 1)" text-anchor="middle">5</text>
<text transform="translate(551.5 1639.5) scale(0.925 1)" text-anchor="middle">10</text>
<text transform="translate(797.5 1639.5) scale(0.925 1)" text-anchor="middle">15</text>
<text transform="translate(1043.5 1639.5) scale(0.925 1)" text-anchor="middle">20</text>
<text transform="translate(1289.5 1639.5) scale(0.925 1)" text-anchor="middle">25</text>
<text transform="translate(1535.5 1639.5) scale(0.925 1)" text-anchor="middle">30</text>
<text transform="translate(1781.5 1639.5) scale(0.925 1)" text-anchor="middle">35</text>
<text transform="translate(2027.5 1639.5) scale(0.925 1)" text-anchor="middle">40</text>
<text transform="translate(2273.5 1639.5) scale(0.925 1)" text-anchor="middle">45</text>
</g>
<text class="sans" font-size="79.5" x="51.5" y="79.0">e</text>
<text class="serif" font-size="100" x="951.3" y="1782.4" textLength="674.3" lengthAdjust="spacingAndGlyphs">Particle size[μm]</text>
<text class="serif" font-size="100" transform="translate(103.2 1322.4) rotate(-90)" textLength="895.5" lengthAdjust="spacingAndGlyphs">Accumulative fraction</text>
<g id="legend" class="serif" font-size="79">
<text x="399.4" y="287.0" textLength="831.3" lengthAdjust="spacingAndGlyphs">Diameter of central sphere</text>
<text x="592.7" y="384.0" textLength="354" lengthAdjust="spacingAndGlyphs">0.0150 mm</text>
<text x="592.7" y="479.7" textLength="354" lengthAdjust="spacingAndGlyphs">0.0144 mm</text>
<text x="592.7" y="575.7" textLength="354" lengthAdjust="spacingAndGlyphs">0.0156 mm</text>
<rect x="477" y="349" width="19" height="18" fill="#000"/>
<ellipse cx="486.5" cy="455" rx="10.6" ry="11.1" fill="#ff0000"/>
<path d="M486.7 536.4 L499.7 559.1 L473.7 559.1 Z" fill="#00ff00"/>
</g>
</g>
</svg>
</body></html>
